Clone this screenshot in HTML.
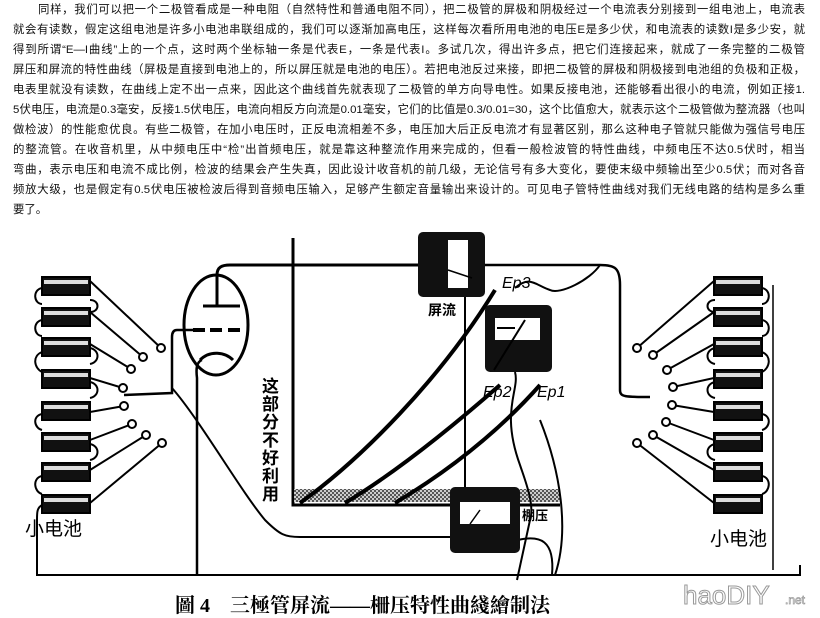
<!DOCTYPE html>
<html><head><meta charset="utf-8"><style>
body{margin:0;background:#fff;}
#w{position:relative;width:820px;height:618px;overflow:hidden;background:#fff;font-family:"Liberation Sans","Noto Sans CJK SC",sans-serif;}
.l{position:absolute;left:13px;width:792px;font-size:11.4px;line-height:14px;height:14px;white-space:nowrap;text-align:justify;text-align-last:justify;color:#111;}
svg{position:absolute;left:0;top:0;}
</style></head><body><div id="w">
<div class="l" style="top:3px;left:38px;width:767px">同样，我们可以把一个二极管看成是一种电阻（自然特性和普通电阻不同），把二极管的屏极和阴极经过一个电流表分别接到一组电池上，电流表</div>
<div class="l" style="top:23px">就会有读数，假定这组电池是许多小电池串联组成的，我们可以逐渐加高电压，这样每次看所用电池的电压E是多少伏，和电流表的读数I是多少安，就</div>
<div class="l" style="top:43px">得到所谓“E—I曲线”上的一个点，这时两个坐标轴一条是代表E，一条是代表I。多试几次，得出许多点，把它们连接起来，就成了一条完整的二极管</div>
<div class="l" style="top:63px">屏压和屏流的特性曲线（屏极是直接到电池上的，所以屏压就是电池的电压）。若把电池反过来接，即把二极管的屏极和阴极接到电池组的负极和正极，</div>
<div class="l" style="top:83px">电表里就没有读数，在曲线上定不出一点来，因此这个曲线首先就表现了二极管的单方向导电性。如果反接电池，还能够看出很小的电流，例如正接1.</div>
<div class="l" style="top:103px">5伏电压，电流是0.3毫安，反接1.5伏电压，电流向相反方向流是0.01毫安，它们的比值是0.3/0.01=30，这个比值愈大，就表示这个二极管做为整流器（也叫</div>
<div class="l" style="top:123px">做检波）的性能愈优良。有些二极管，在加小电压时，正反电流相差不多，电压加大后正反电流才有显著区别，那么这种电子管就只能做为强信号电压</div>
<div class="l" style="top:143px">的整流管。在收音机里，从中频电压中“检”出首频电压，就是靠这种整流作用来完成的，但看一般检波管的特性曲线，中频电压不达0.5伏时，相当</div>
<div class="l" style="top:163px">弯曲，表示电压和电流不成比例，检波的结果会产生失真，因此设计收音机的前几级，无论信号有多大变化，要使末级中频输出至少0.5伏；而对各音</div>
<div class="l" style="top:183px">频放大级，也是假定有0.5伏电压被检波后得到音频电压输入，足够产生额定音量输出来设计的。可见电子管特性曲线对我们无线电路的结构是多么重</div>
<div class="l" style="top:203px;width:auto;text-align-last:auto">要了。</div>
<svg width="820" height="618" viewBox="0 0 820 618">
<defs><pattern id="h" width="4" height="4" patternUnits="userSpaceOnUse"><rect width="4" height="4" fill="#ccc"/><rect width="2" height="2" fill="#555"/><rect x="2" y="2" width="2" height="2" fill="#555"/></pattern>
<g id="bl">
<rect x="42" y="277" width="48" height="18" fill="#111"/><rect x="44" y="280" width="44" height="4" fill="#ddd" stroke="none"/>
<rect x="42" y="308" width="48" height="18" fill="#111"/><rect x="44" y="311" width="44" height="4" fill="#ddd" stroke="none"/>
<rect x="42" y="338" width="48" height="18" fill="#111"/><rect x="44" y="341" width="44" height="4" fill="#ddd" stroke="none"/>
<rect x="42" y="370" width="48" height="18" fill="#111"/><rect x="44" y="373" width="44" height="4" fill="#ddd" stroke="none"/>
<rect x="42" y="402" width="48" height="18" fill="#111"/><rect x="44" y="405" width="44" height="4" fill="#ddd" stroke="none"/>
<rect x="42" y="433" width="48" height="18" fill="#111"/><rect x="44" y="436" width="44" height="4" fill="#ddd" stroke="none"/>
<rect x="42" y="463" width="48" height="18" fill="#111"/><rect x="44" y="466" width="44" height="4" fill="#ddd" stroke="none"/>
<rect x="42" y="495" width="48" height="18" fill="#111"/><rect x="44" y="498" width="44" height="4" fill="#ddd" stroke="none"/>
</g></defs>
<g fill="none" stroke="#000" stroke-width="2">
<use href="#bl"/>
<path d="M42 288 C32 290 34 304 42 304 M90 300 C100 300 100 312 90 312 M42 320 C32 322 34 336 42 336 M90 348 C100 350 100 362 90 364 M42 352 C32 356 34 368 42 372 M90 382 C100 384 100 396 90 398 M42 414 C32 416 34 428 42 430 M90 444 C100 446 100 458 90 460 M42 476 C32 478 34 492 42 494"/>
<path d="M90 281 L161 348 M90 312 L143 357 M90 344 L131 369 M90 378 L123 388 M90 412 L124 406 M90 440 L132 424 M90 470 L146 435 M90 503 L162 443"/>
<g fill="#fff"><circle cx="161" cy="348" r="4"/><circle cx="143" cy="357" r="4"/><circle cx="131" cy="369" r="4"/><circle cx="123" cy="388" r="4"/><circle cx="124" cy="406" r="4"/><circle cx="132" cy="424" r="4"/><circle cx="146" cy="435" r="4"/><circle cx="162" cy="443" r="4"/></g>
<path d="M42 505 C37 508 37 512 37 520 L37 575 L800 575 L800 565"/>
<path d="M773 570 L773 285" stroke-width="1.5"/>
<ellipse cx="216" cy="325" rx="32" ry="50" stroke-width="3"/>
<path d="M203 306 L240 306 M217 306 L217 275 C217 267 222 265 230 265 L420 265" stroke-width="3"/>
<path d="M193 330 L205 330 M210 330 L222 330 M228 330 L240 330" stroke-width="4"/>
<path d="M193 330 L177 330 C173 330 172 333 172 337 L172 393 L124 395" stroke-width="2.5"/>
<path d="M200 360 C210 350 225 352 233 360" stroke-width="3"/>
<path d="M202 360 C196 362 196 370 197 378 L197 575" stroke-width="2.5"/>
<path d="M172 388 C200 420 240 490 265 520 C280 535 285 537 300 537 L452 537"/>
<path d="M293 238 L293 505 L560 505" stroke-width="3"/>
<rect x="294" y="489" width="266" height="13" fill="url(#h)" stroke="none"/>
<path d="M300 503 C360 460 440 380 495 290" stroke-width="4"/>
<path d="M345 503 C400 470 460 420 500 385" stroke-width="4"/>
<path d="M395 503 C450 470 500 430 540 385" stroke-width="4"/>
<path d="M465 297 L465 488" stroke-width="2"/>
<path d="M485 265 L600 265 C615 265 620 268 620 285 L620 390 C620 397 625 397 650 397" stroke-width="2.5"/>
<path d="M600 265 C590 280 560 295 550 290 C535 285 530 275 515 288" stroke-width="2"/>
<path d="M517 580 L530 520 C535 505 525 480 520 465 C500 410 520 390 515 372 M555 575 C570 530 560 470 540 420" stroke-width="2"/>
<path d="M518 540 C540 535 555 540 552 575" stroke-width="2"/>
</g>
<rect x="418" y="232" width="67" height="65" rx="5" fill="#111"/>
<rect x="448" y="240" width="20" height="48" fill="#fff"/>
<path d="M448 270 L472 278" stroke="#000" stroke-width="1.5"/>
<rect x="485" y="305" width="67" height="67" rx="5" fill="#111"/>
<rect x="495" y="318" width="45" height="22" fill="#fff"/>
<path d="M497 328 L515 328 M525 320 L494 370" stroke="#000" stroke-width="2"/>
<rect x="450" y="487" width="70" height="66" rx="5" fill="#111"/>
<rect x="460" y="502" width="50" height="22" fill="#fff"/>
<path d="M470 524 L480 510" stroke="#000" stroke-width="1.5"/>
<g transform="translate(804,0) scale(-1,1)" fill="none" stroke="#000" stroke-width="2">
<use href="#bl"/>
</g>
<path d="M762 288 C772 290 770 304 762 304 M715 300 C705 300 705 312 715 312 M762 320 C772 322 770 336 762 336 M715 348 C705 350 705 362 715 364 M762 352 C772 356 770 368 762 372 M715 382 C705 384 705 396 715 398 M762 414 C772 416 770 428 762 430 M715 444 C705 446 705 458 715 460 M762 476 C772 478 770 492 762 494" fill="none" stroke="#000" stroke-width="2"/>
<path d="M714 281 L637 348 M714 312 L653 355 M714 344 L667 370 M714 378 L673 387 M714 412 L672 405 M714 440 L666 422 M714 470 L653 435 M714 503 L637 443" stroke="#000" stroke-width="2"/>
<g fill="#fff" stroke="#000" stroke-width="2"><circle cx="637" cy="348" r="4"/><circle cx="653" cy="355" r="4"/><circle cx="667" cy="370" r="4"/><circle cx="673" cy="387" r="4"/><circle cx="672" cy="405" r="4"/><circle cx="666" cy="422" r="4"/><circle cx="653" cy="435" r="4"/><circle cx="637" cy="443" r="4"/></g>
<g font-family="Liberation Sans,Noto Sans CJK SC,sans-serif" fill="#000">
<text x="25" y="535" font-size="19">小电池</text>
<text x="710" y="545" font-size="19">小电池</text>
<text x="428" y="315" font-size="14" font-weight="bold">屏流</text>
<text x="522" y="520" font-size="13" font-weight="bold">棚压</text>
<text x="502" y="288" font-size="16" font-style="italic">Ep3</text>
<text x="483" y="397" font-size="16" font-style="italic">Ep2</text>
<text x="537" y="397" font-size="16" font-style="italic">Ep1</text>
<g font-size="17" font-weight="bold"><text x="262" y="392">这</text><text x="262" y="410">部</text><text x="262" y="428">分</text><text x="262" y="446">不</text><text x="262" y="464">好</text><text x="262" y="482">利</text><text x="262" y="500">用</text></g>
<text x="175" y="612" font-size="20" font-family="Liberation Serif,Noto Serif CJK SC,serif" font-weight="bold">圖 4　三極管屏流——柵压特性曲綫繪制法</text>
<text x="683" y="604" font-size="26" fill="#fff" stroke="#999" stroke-width="1">haoDIY</text>
<text x="785" y="604" font-size="12" fill="#fff" stroke="#999" stroke-width="0.7">.net</text>
</g>
</svg>
</div></body></html>
